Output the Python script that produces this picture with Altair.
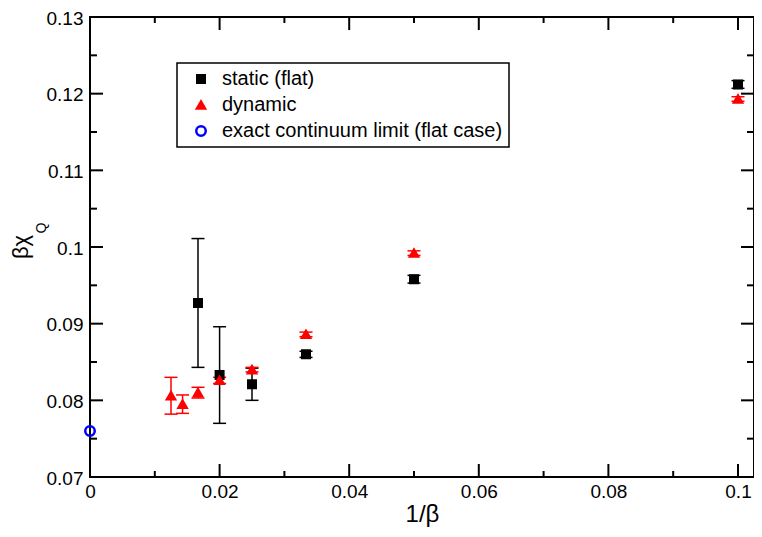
import altair as alt
import pandas as pd

FONT = "Liberation Sans"

series_names = ["static (flat)", "dynamic", "exact continuum limit (flat case)"]

static_x = [0.1, 0.05, 1 / 30, 0.025, 0.02, 1 / 60]
static_y = [0.1212, 0.0958, 0.0860, 0.0821, 0.0833, 0.0927]
static_err = [0.0005, 0.0005, 0.0004, 0.0021, 0.0063, 0.0084]

dynamic_x = [0.1, 0.05, 1 / 30, 0.025, 0.02, 1 / 60, 1 / 70, 1 / 80]
dynamic_y = [0.1193, 0.0992, 0.0886, 0.0840, 0.0826, 0.0810, 0.0795, 0.0806]
dynamic_err = [0.0003, 0.0003, 0.0003, 0.0003, 0.0004, 0.0007, 0.0012, 0.0024]

exact_x = [0.0]
exact_y = [0.076]

x_major = [0, 0.02, 0.04, 0.06, 0.08, 0.1]
x_minor = [0.01, 0.03, 0.05, 0.07, 0.09]
y_major = [0.07, 0.08, 0.09, 0.1, 0.11, 0.12, 0.13]
y_minor = [0.075, 0.085, 0.095, 0.105, 0.115, 0.125]

x_title = "1/β"
y_title_main = ["βχ"]
y_title_sub = ["Q"]

W, H = 664, 460

points = pd.DataFrame({
    "series": [series_names[0]] * len(static_x) + [series_names[1]] * len(dynamic_x) + [series_names[2]] * len(exact_x),
    "x": static_x + dynamic_x + exact_x,
    "y": static_y + dynamic_y + exact_y,
})
err_static = pd.DataFrame({
    "x": static_x,
    "lo": [y - e for y, e in zip(static_y, static_err)],
    "hi": [y + e for y, e in zip(static_y, static_err)],
})
err_dynamic = pd.DataFrame({
    "x": dynamic_x,
    "lo": [y - e for y, e in zip(dynamic_y, dynamic_err)],
    "hi": [y + e for y, e in zip(dynamic_y, dynamic_err)],
})

xscale = alt.Scale(domain=[0, 0.10247], nice=False, zero=False)
yscale = alt.Scale(domain=[0.07, 0.13], nice=False, zero=False)
xaxis = alt.Axis(values=x_major, format="~g", ticks=False, domain=False, grid=False,
                 labelFont=FONT, labelFontSize=19, labelColor="black", labelPadding=5,
                 labelFlush=False, titleFont=FONT, titleFontSize=24, titleFontWeight="normal",
                 titleColor="black", titlePadding=1)
yaxis = alt.Axis(values=y_major, format="~g", ticks=False, domain=False, grid=False,
                 labelFont=FONT, labelFontSize=19, labelColor="black", labelPadding=7,
                 labelOffset=1, labelFlush=False)


def xenc(field="x"):
    return alt.X(f"{field}:Q", scale=xscale, axis=xaxis, title=x_title)


def yenc(field="y"):
    return alt.Y(f"{field}:Q", scale=yscale, axis=yaxis, title="")


layers = []

# inward ticks on all four sides
for vals, length in [(x_major, 13), (x_minor, 6)]:
    df = pd.DataFrame({"x": vals})
    layers.append(alt.Chart(df).mark_rule(color="black", strokeWidth=2).encode(
        x=xenc(), y=alt.value(H), y2=alt.value(H - length)))
    layers.append(alt.Chart(df).mark_rule(color="black", strokeWidth=2).encode(
        x=xenc(), y=alt.value(0), y2=alt.value(length)))
for vals, length in [(y_major, 13), (y_minor, 7)]:
    df = pd.DataFrame({"y": vals})
    layers.append(alt.Chart(df).mark_rule(color="black", strokeWidth=2).encode(
        y=yenc(), x=alt.value(0), x2=alt.value(length)))
    layers.append(alt.Chart(df).mark_rule(color="black", strokeWidth=2).encode(
        y=yenc(), x=alt.value(W), x2=alt.value(W - length)))

# error bars with caps
for df, col in [(err_static, "black"), (err_dynamic, "red")]:
    layers.append(alt.Chart(df).mark_rule(color=col, strokeWidth=1.5).encode(
        x=xenc(), y=yenc("lo"), y2=alt.Y2("hi:Q")))
    for f in ["lo", "hi"]:
        layers.append(alt.Chart(df).mark_tick(color=col, orient="horizontal", size=13,
                                              thickness=1.5, opacity=1).encode(
            x=xenc(), y=yenc(f)))

legend = alt.Legend(orient="none", legendX=87, legendY=46, title=None,
                    strokeColor="black", fillColor="white", padding=6,
                    symbolOffset=8, labelOffset=11, labelFont=FONT, labelFontSize=20,
                    labelColor="black", labelLimit=500, rowPadding=6,
                    symbolStrokeWidth=2.5)

layers.append(alt.Chart(points).mark_point(filled=False, strokeWidth=2.5, opacity=1).encode(
    x=xenc(), y=yenc(),
    color=alt.Color("series:N", title=None, legend=legend,
                    scale=alt.Scale(domain=series_names, range=["black", "red", "blue"])),
    fill=alt.Fill("series:N", title=None, legend=legend,
                  scale=alt.Scale(domain=series_names, range=["black", "red", "transparent"])),
    shape=alt.Shape("series:N", title=None, legend=legend,
                    scale=alt.Scale(domain=series_names, range=["square", "triangle-up", "circle"])),
    size=alt.Size("series:N", title=None, legend=legend,
                  scale=alt.Scale(type="ordinal", domain=series_names, range=[56, 64, 90])),
))

# y-axis title with subscript
layers.append(alt.Chart(pd.DataFrame({"t": y_title_main})).mark_text(
    font=FONT, fontSize=22, angle=270, align="center", baseline="alphabetic", color="black").encode(
    text="t:N", x=alt.value(-62), y=alt.value(230)))
layers.append(alt.Chart(pd.DataFrame({"t": y_title_sub})).mark_text(
    font=FONT, fontSize=14, angle=270, align="center", baseline="alphabetic", color="black").encode(
    text="t:N", x=alt.value(-44), y=alt.value(211)))

chart = alt.layer(*layers).properties(
    width=W, height=H,
    padding={"left": 82, "top": 9, "right": 0, "bottom": 52},
    autosize=alt.AutoSizeParams(type="none"),
).configure_view(stroke="black", strokeWidth=2).configure_legend(strokeWidth=1.5)

chart.save("out.html", embed_options={"renderer": "svg", "actions": False})
